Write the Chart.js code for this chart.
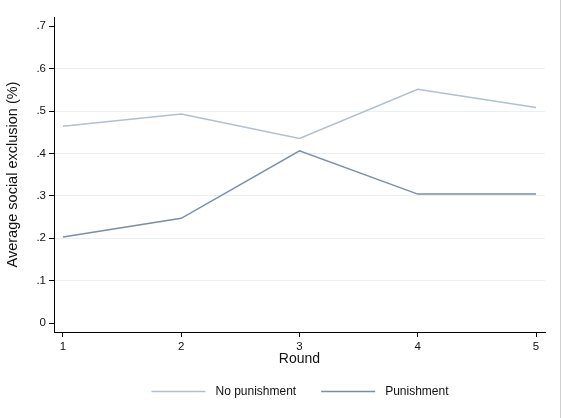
<!DOCTYPE html>
<html>
<head>
<meta charset="utf-8">
<script src="https://cdn.jsdelivr.net/npm/chart.js@4/dist/chart.umd.min.js"></script>
<style>
  html, body { margin: 0; padding: 0; background: #ffffff; }
  #wrap { width: 561px; height: 418px; position: relative; }
</style>
</head>
<body>
<div id="wrap"><canvas id="c" width="561" height="418"></canvas></div>
<script>
// Rounds of the experiment
const rounds = [1, 2, 3, 4, 5];
// Average social exclusion per round, by treatment
const noPunishment = [0.464, 0.493, 0.435, 0.551, 0.508];
const punishment   = [0.203, 0.247, 0.406, 0.304, 0.304];
const seriesLabels = ['No punishment', 'Punishment'];
// Y axis tick values
const yTicks = [0, 0.1, 0.2, 0.3, 0.4, 0.5, 0.6, 0.7];

const FONT = '"Liberation Sans", Arial, Helvetica, sans-serif';
const lightColor = '#b2bfcd';
const darkColor = '#7b8ea6';

function fmtTick(v) {
  const r = Math.round(v * 10) / 10;
  if (r === 0) return '0';
  return r.toFixed(1).replace(/^0/, '');
}

// Legend drawn below the plot with long line samples
const legendPlugin = {
  id: 'bottomLegend',
  afterDraw(chart) {
    const ctx = chart.ctx;
    const y = 391.5;
    ctx.save();
    ctx.font = '12px ' + FONT;
    ctx.textBaseline = 'middle';
    ctx.fillStyle = '#111111';
    const items = chart.data.datasets.map(ds => ({ label: ds.label, color: ds.borderColor }));
    const sample = 54, gap = 10, spacing = 25;
    let total = 0;
    items.forEach((it, i) => {
      it.w = ctx.measureText(it.label).width;
      total += sample + gap + it.w + (i ? spacing : 0);
    });
    let x = 300 - total / 2;
    items.forEach((it, i) => {
      if (i) x += spacing;
      ctx.strokeStyle = it.color;
      ctx.lineWidth = 1.5;
      ctx.beginPath();
      ctx.moveTo(x, y);
      ctx.lineTo(x + sample, y);
      ctx.stroke();
      x += sample + gap;
      ctx.fillText(it.label, x, y);
      x += it.w;
    });
    // thin frame line on the right edge
    ctx.strokeStyle = '#cfcfcf';
    ctx.lineWidth = 1;
    ctx.beginPath();
    ctx.moveTo(chart.width - 0.5, 0);
    ctx.lineTo(chart.width - 0.5, chart.height);
    ctx.stroke();
    ctx.restore();
  }
};

new Chart(document.getElementById('c'), {
  type: 'line',
  data: {
    datasets: [
      {
        label: seriesLabels[0],
        data: rounds.map((r, i) => ({ x: r, y: noPunishment[i] })),
        borderColor: lightColor,
        borderWidth: 1.5,
        pointRadius: 0,
        tension: 0,
        fill: false
      },
      {
        label: seriesLabels[1],
        data: rounds.map((r, i) => ({ x: r, y: punishment[i] })),
        borderColor: darkColor,
        borderWidth: 1.5,
        pointRadius: 0,
        tension: 0,
        fill: false
      }
    ]
  },
  options: {
    responsive: false,
    animation: false,
    devicePixelRatio: 1,
    layout: { padding: { top: 17, right: 16, bottom: 50, left: 0 } },
    plugins: {
      legend: { display: false },
      tooltip: { enabled: false }
    },
    scales: {
      x: {
        type: 'linear',
        min: 0.924,
        max: 5.076,
        afterBuildTicks(scale) { scale.ticks = rounds.map(v => ({ value: v })); },
        afterFit(scale) { scale.height = 36; },
        ticks: {
          color: '#111111',
          font: { family: FONT, size: 11.5 },
          padding: 3,
          maxRotation: 0,
          callback: v => String(v)
        },
        grid: {
          display: true,
          drawOnChartArea: false,
          drawTicks: true,
          tickLength: 5,
          color: '#000000',
          lineWidth: 1
        },
        border: { display: true, color: '#000000', width: 1 },
        title: {
          display: true,
          text: 'Round',
          color: '#111111',
          font: { family: FONT, size: 14 },
          padding: { top: 0, bottom: 0 }
        }
      },
      y: {
        type: 'linear',
        min: -0.0212,
        max: 0.7217,
        afterBuildTicks(scale) { scale.ticks = yTicks.map(v => ({ value: v })); },
        afterFit(scale) { scale.width = 54; },
        ticks: {
          color: '#111111',
          font: { family: FONT, size: 11.5 },
          padding: 3,
          callback: v => fmtTick(v)
        },
        grid: {
          drawTicks: true,
          tickLength: 5,
          color: ctx => {
            const v = ctx.tick ? Math.round(ctx.tick.value * 10) : -1;
            return (v >= 1 && v <= 6) ? '#e8f0f2' : 'rgba(0,0,0,0)';
          },
          tickColor: '#000000',
          lineWidth: 1
        },
        border: { display: true, color: '#000000', width: 1 },
        title: {
          display: true,
          text: 'Average social exclusion (%)',
          color: '#111111',
          font: { family: FONT, size: 14.5 },
          padding: { top: 4, bottom: 0 }
        }
      }
    }
  },
  plugins: [legendPlugin]
});
</script>
</body>
</html>
